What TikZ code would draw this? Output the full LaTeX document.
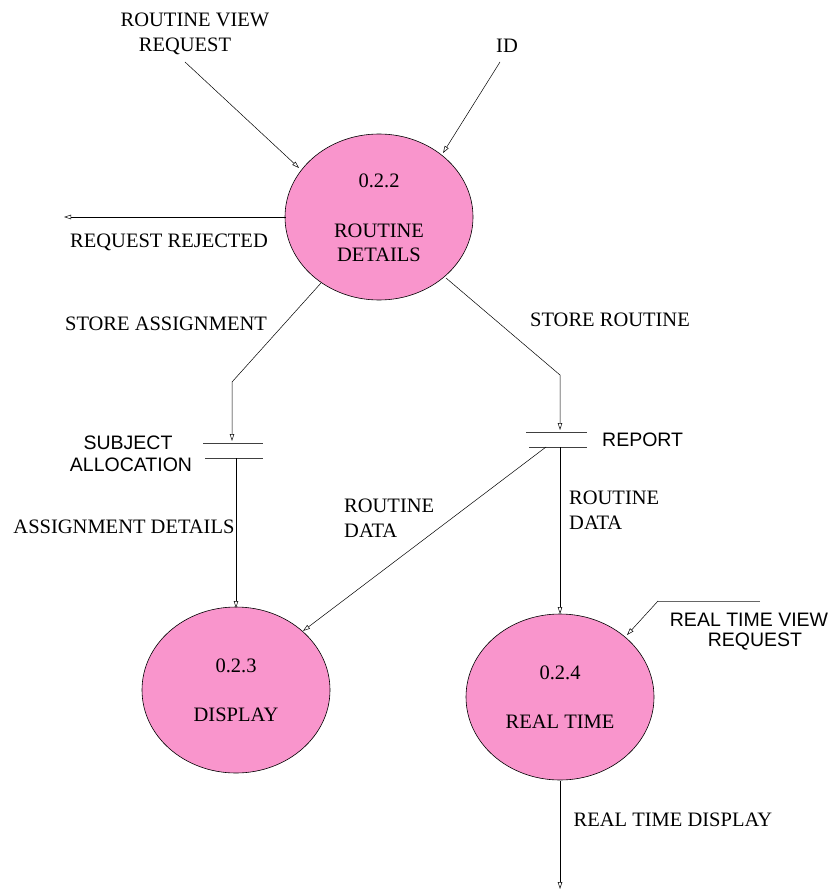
\documentclass[tikz,border=0pt]{standalone}
\usepackage{fontspec}
\setmainfont{Liberation Serif}
\setsansfont{Liberation Sans}
\usetikzlibrary{arrows.meta,shapes.geometric}
\definecolor{procpink}{RGB}{249,149,204}
\tikzset{
  process/.style={ellipse, draw=black, fill=procpink, line width=0.6pt,
    minimum width=188pt, minimum height=166pt, inner sep=0pt},
  flow/.style={draw=black, line width=0.5pt,
    -{Triangle[open, length=7pt, width=4.5pt]}},
  plain/.style={draw=black, line width=0.5pt},
  storeline/.style={draw=black!75, line width=0.9pt},
  lbl/.style={font=\fontsize{20.5}{22}\selectfont, inner sep=0pt},
  slbl/.style={font=\sffamily\fontsize{19.5}{21}\selectfont, inner sep=0pt}
}
\begin{document}
\begin{tikzpicture}[x=1pt, y=-1pt]
\useasboundingbox (0,0) rectangle (833,890);

% processes
\node[process] (p22) at (379,217) {};
\node[process] (p23) at (236,690) {};
\node[process] (p24) at (560,697) {};

\node[lbl] (p22n) at (379,181) {0.2.2};
\node[lbl] (p22a) at (379,231) {ROUTINE};
\node[lbl] (p22b) at (379,255) {DETAILS};
\node[lbl] (p23n) at (236,666) {0.2.3};
\node[lbl] (p23a) at (236,715) {DISPLAY};
\node[lbl] (p24n) at (560,673) {0.2.4};
\node[lbl] (p24a) at (560,722) {REAL TIME};

% data stores
\coordinate (sa1) at (203,443); \coordinate (sa2) at (263,443);
\coordinate (sa3) at (205,458); \coordinate (sa4) at (263,458);
\draw[storeline] (sa1) -- (sa2);
\draw[storeline] (sa3) -- (sa4);
\coordinate (rp1) at (526,432); \coordinate (rp2) at (587,432);
\coordinate (rp3) at (529,447); \coordinate (rp4) at (587,447);
\draw[storeline] (rp1) -- (rp2);
\draw[storeline] (rp3) -- (rp4);

\node[slbl] (saA) at (128,443) {SUBJECT};
\node[slbl] (saB) at (131,465) {ALLOCATION};
\node[slbl, anchor=west] (rpA) at (602,440) {REPORT};

% end points of the flows
\coordinate (rvq) at (185,62);
\coordinate (rvqE) at (299,168);
\coordinate (idq) at (500,62);
\coordinate (idE) at (443,153);
\coordinate (rejS) at (286,217);
\coordinate (rej) at (64,217);
\coordinate (saS) at (321,283);
\coordinate (saK) at (232,382);
\coordinate (saT) at (232,441);
\coordinate (srS) at (446,278);
\coordinate (srK) at (560,375);
\coordinate (srT) at (560,430);
\coordinate (adS) at (236,458);
\coordinate (adT) at (236,608);
\coordinate (rdS) at (546,447);
\coordinate (rdT) at (303,631);
\coordinate (rd2S) at (560,447);
\coordinate (rd2T) at (560,614);
\coordinate (rtv) at (760,601);
\coordinate (rtvK) at (658,601);
\coordinate (rtvT) at (627,635);
\coordinate (rtdS) at (560,781);
\coordinate (rtd) at (560,889);

% flows
\draw[flow] (rvq) -- (rvqE);
\draw[flow] (idq) -- (idE);
\draw[flow] (rejS) -- (rej);
\draw[flow] (saS) -- (saK) -- (saT);
\draw[flow] (srS) -- (srK) -- (srT);
\draw[flow] (adS) -- (adT);
\draw[flow] (rdS) -- (rdT);
\draw[flow] (rd2S) -- (rd2T);
\draw[plain, draw=black!60, line width=0.9pt] (rtv) -- (rtvK);
\draw[flow] (rtvK) -- (rtvT);
\draw[flow] (rtdS) -- (rtd);

% flow labels
\node[lbl] (t1) at (195,20) {ROUTINE VIEW};
\node[lbl] (t2) at (185,46) {REQUEST};
\node[lbl] (t3) at (507,46) {ID};
\node[lbl] (t4) at (169,242) {REQUEST REJECTED};
\node[lbl] (t5) at (166,324) {STORE ASSIGNMENT};
\node[lbl] (t6) at (610,320) {STORE ROUTINE};
\node[lbl] (t7) at (124,527) {ASSIGNMENT DETAILS};
\node[lbl, anchor=west] (t8) at (344,506) {ROUTINE};
\node[lbl, anchor=west] (t9) at (344,531) {DATA};
\node[lbl, anchor=west] (t10) at (569,498) {ROUTINE};
\node[lbl, anchor=west] (t11) at (569,523) {DATA};
\node[slbl] (t12) at (749,620) {REAL TIME VIEW};
\node[slbl] (t13) at (755,642) {REQUEST};
\node[lbl] (t14) at (673,820) {REAL TIME DISPLAY};
\end{tikzpicture}
\end{document}
